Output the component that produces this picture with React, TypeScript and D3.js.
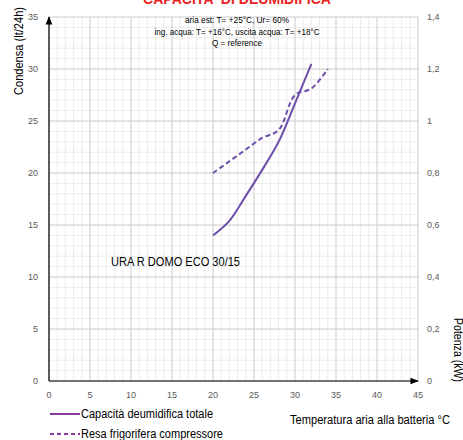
import React from "react";
import * as d3 from "d3";

const xTicks = [0, 5, 10, 15, 20, 25, 30, 35, 40, 45];
const yLeftTicks = [0, 5, 10, 15, 20, 25, 30, 35];
const yRightTicks = [0, 0.2, 0.4, 0.6, 0.8, 1.0, 1.2, 1.4];
const yRightLabels = ["0", "0,2", "0,4", "0,6", "0,8", "1", "1,2", "1,4"];

const capTemp = [20, 22, 24, 26, 28, 30, 32];
const capValues = [14, 15.4, 17.8, 20.3, 23.0, 26.7, 30.5];

const resaTemp = [20, 22, 24, 26, 28, 30, 32, 34];
const resaValues = [0.8, 0.845, 0.89, 0.935, 0.965, 1.1, 1.125, 1.2];

const notes = [
  "aria est: T= +25°C, Ur= 60%",
  "ing. acqua: T= +16°C, uscita acqua: T= +18°C",
  "Q = reference",
];
const noteWidths = [104, 165, 50];

const W = 463;
const H = 440;
const SANS = "'Liberation Sans', Arial, sans-serif";

export default function App() {
  const x = d3.scaleLinear().domain([0, 45]).range([49, 418]);
  const yL = d3.scaleLinear().domain([0, 35]).range([381, 17]);
  const yR = d3.scaleLinear().domain([0, 1.4]).range([381, 17]);

  const minorX = d3.range(0, 46, 1);
  const minorY = d3.range(0, 36, 1);

  const capLine = d3
    .line<number>()
    .x((_, i) => x(capTemp[i]))
    .y((d) => yL(d))
    .curve(d3.curveCatmullRom.alpha(0.5));
  const resaLine = d3
    .line<number>()
    .x((_, i) => x(resaTemp[i]))
    .y((d) => yR(d))
    .curve(d3.curveCatmullRom.alpha(0.5));

  const curveColor = "#6e4fab";
  const legendColor = "#8a3a9e";
  const adj = "spacingAndGlyphs";

  return (
    <svg
      width={W}
      height={H}
      style={{ position: "absolute", left: 0, top: 0, display: "block", background: "#fff" }}
    >
      <defs>
        <marker id="arr" viewBox="0 0 10 10" refX="9" refY="5" markerWidth="7" markerHeight="7" orient="auto">
          <path d="M0,1 L10,5 L0,9 Z" fill="#000" />
        </marker>
      </defs>
      <rect x={0} y={0} width={W} height={H} fill="#fff" />

      {/* title (cropped at the top edge, as in the reference) */}
      <text x={143} y={4} textLength={188} lengthAdjust={adj} fill="#e8231f" fontFamily={SANS} fontWeight="bold" fontSize={14}>
        CAPACITA' DI DEUMIDIFICA
      </text>

      {/* minor grid */}
      {minorX.map((v) => (
        <line key={"mx" + v} x1={x(v)} x2={x(v)} y1={yL(0)} y2={yL(35)} stroke="#ececec" strokeWidth={1} />
      ))}
      {minorY.map((v) => (
        <line key={"my" + v} x1={x(0)} x2={x(45)} y1={yL(v)} y2={yL(v)} stroke="#ececec" strokeWidth={1} />
      ))}
      {/* major grid */}
      {xTicks.map((v) => (
        <line key={"gx" + v} x1={x(v)} x2={x(v)} y1={yL(0)} y2={yL(35)} stroke="#d4d4d4" strokeWidth={1} />
      ))}
      {yLeftTicks.map((v) => (
        <line key={"gy" + v} x1={x(0)} x2={x(45)} y1={yL(v)} y2={yL(v)} stroke="#d4d4d4" strokeWidth={1} />
      ))}

      {/* axes */}
      <line x1={x(0)} x2={x(0)} y1={yL(0)} y2={yL(35)} stroke="#000" strokeWidth={1.2} markerEnd="url(#arr)" />
      <line x1={x(0)} x2={x(45)} y1={yL(0)} y2={yL(0)} stroke="#000" strokeWidth={1.2} markerEnd="url(#arr)" />

      {/* tick labels */}
      {xTicks.map((v) => (
        <text key={"tx" + v} x={x(v)} y={398} textAnchor="middle" fill="#595959" fontFamily={SANS} fontSize={9}>
          {v}
        </text>
      ))}
      {yLeftTicks.map((v) => (
        <text key={"tl" + v} x={38} y={yL(v) + 3} textAnchor="end" fill="#595959" fontFamily={SANS} fontSize={9}>
          {v}
        </text>
      ))}
      {yRightTicks.map((v, i) => (
        <text key={"tr" + v} x={427} y={yR(v) + 3} textAnchor="start" fill="#595959" fontFamily={SANS} fontSize={9}>
          {yRightLabels[i]}
        </text>
      ))}

      {/* axis titles */}
      <text transform="translate(23,51) rotate(-90)" textAnchor="middle" textLength={88} lengthAdjust={adj} fill="#000" fontFamily={SANS} fontSize={12}>
        Condensa (lt/24h)
      </text>
      <text transform="translate(454,350) rotate(90)" textAnchor="middle" textLength={64} lengthAdjust={adj} fill="#000" fontFamily={SANS} fontSize={12}>
        Potenza (kW)
      </text>
      <text x={290} y={424} textLength={160} lengthAdjust={adj} fill="#000" fontFamily={SANS} fontSize={12.5}>
        Temperatura aria alla batteria °C
      </text>

      {/* notes */}
      {notes.map((t, i) => (
        <text
          key={"n" + i}
          x={237 - noteWidths[i] / 2}
          y={23 + i * 11.5}
          textLength={noteWidths[i]}
          lengthAdjust={adj}
          fill="#000"
          fontFamily={SANS}
          fontSize={9}
        >
          {t}
        </text>
      ))}

      <text x={111} y={266} textLength={129} lengthAdjust={adj} fill="#000" fontFamily={SANS} fontSize={12.5}>
        URA R DOMO ECO 30/15
      </text>

      {/* series */}
      <path d={capLine(capValues) || ""} fill="none" stroke={curveColor} strokeWidth={2} />
      <path d={resaLine(resaValues) || ""} fill="none" stroke={curveColor} strokeWidth={2} strokeDasharray="5,3" />

      {/* legend */}
      <line x1={50} x2={80} y1={414} y2={414} stroke={legendColor} strokeWidth={2} />
      <text x={81} y={418} textLength={132} lengthAdjust={adj} fill="#000" fontFamily={SANS} fontSize={12}>
        Capacità deumidifica totale
      </text>
      <line x1={50} x2={80} y1={434} y2={434} stroke={legendColor} strokeWidth={2} strokeDasharray="4,3" />
      <text x={81} y={438} textLength={142} lengthAdjust={adj} fill="#000" fontFamily={SANS} fontSize={12}>
        Resa frigorifera compressore
      </text>
    </svg>
  );
}
